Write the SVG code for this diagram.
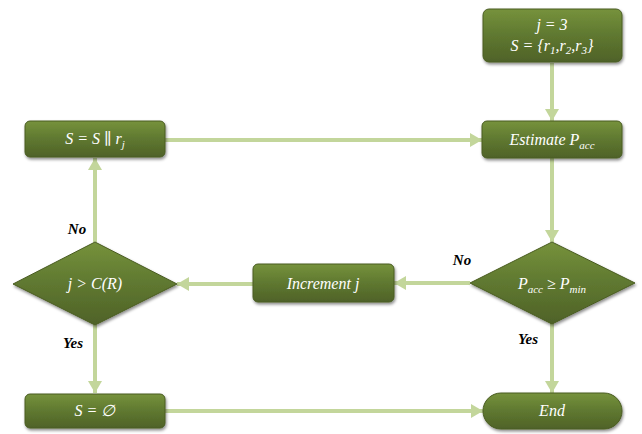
<svg xmlns="http://www.w3.org/2000/svg" width="642" height="434" viewBox="0 0 642 434">
<style>
.node{fill:url(#g);stroke:#4a5c22;stroke-width:1;filter:url(#sh)}
.t{fill:#ffffff;font-family:'Liberation Serif','DejaVu Serif',serif;font-style:italic;font-size:16px;text-anchor:middle}
.sub{font-size:11px}
.c{stroke:#c3d69b;stroke-width:4;fill:none}
.lbl{fill:#000;font-family:'Liberation Serif','DejaVu Serif',serif;font-style:italic;font-weight:bold;font-size:15px;text-anchor:middle}
</style>
<defs>
<linearGradient id="g" x1="0" y1="0" x2="0" y2="1">
<stop offset="0" stop-color="#76923c"/>
<stop offset="0.5" stop-color="#5f7830"/>
<stop offset="1" stop-color="#4f6228"/>
</linearGradient>
<filter id="sh" x="-20%" y="-20%" width="140%" height="150%">
<feDropShadow dx="1" dy="2" stdDeviation="1.5" flood-color="#000" flood-opacity="0.45"/>
</filter>
<marker id="a" markerUnits="userSpaceOnUse" markerWidth="14" markerHeight="14" refX="12" refY="7" orient="auto">
<path d="M0,0 L12,7 L0,14 Z" fill="#c3d69b"/>
</marker>
</defs>
<g id="connectors">
<line class="c" x1="552" y1="63" x2="552" y2="121" marker-end="url(#a)"/>
<line class="c" x1="165" y1="140" x2="482" y2="140" marker-end="url(#a)"/>
<line class="c" x1="552" y1="158" x2="552" y2="242" marker-end="url(#a)"/>
<line class="c" x1="470" y1="283" x2="394" y2="283" marker-end="url(#a)"/>
<line class="c" x1="253" y1="284" x2="177" y2="284" marker-end="url(#a)"/>
<line class="c" x1="95" y1="242" x2="95" y2="158" marker-end="url(#a)"/>
<line class="c" x1="95" y1="325" x2="95" y2="393" marker-end="url(#a)"/>
<line class="c" x1="552" y1="323" x2="552" y2="393" marker-end="url(#a)"/>
<line class="c" x1="165" y1="411" x2="483" y2="411" marker-end="url(#a)"/>
</g>
<g id="start">
<rect class="node" x="483" y="9" width="139" height="53" rx="6"/>
<text class="t" x="552" y="30">j = 3</text>
<text class="t" x="552" y="51">S = {r<tspan class="sub" dy="3">1</tspan><tspan dy="-3">,r</tspan><tspan class="sub" dy="3">2</tspan><tspan dy="-3">,r</tspan><tspan class="sub" dy="3">3</tspan><tspan dy="-3">}</tspan></text>
</g>
<g id="append">
<rect class="node" x="25" y="121" width="140" height="36" rx="5"/>
<text class="t" x="95" y="144">S = S ∥ r<tspan class="sub" dy="4">j</tspan></text>
</g>
<g id="estimate">
<rect class="node" x="482" y="121" width="140" height="37" rx="5"/>
<text class="t" x="552" y="145">Estimate P<tspan class="sub" dy="4">acc</tspan></text>
</g>
<g id="check">
<polygon class="node" points="552,242 635,283 552,324 470,283"/>
<text class="t" x="552" y="289">P<tspan class="sub" dy="4">acc</tspan><tspan dy="-4"> ≥ P</tspan><tspan class="sub" dy="4">min</tspan></text>
</g>
<g id="increment">
<rect class="node" x="253" y="264" width="141" height="38" rx="5"/>
<text class="t" x="323" y="289">Increment j</text>
</g>
<g id="compare">
<polygon class="node" points="95,242 177,284 95,325 13,284"/>
<text class="t" x="95" y="289">j &gt; C(R)</text>
</g>
<g id="empty">
<rect class="node" x="25" y="394" width="140" height="34" rx="5"/>
<text class="t" x="95" y="416">S =  ∅</text>
</g>
<g id="end">
<rect class="node" x="483" y="393" width="139" height="36" rx="18"/>
<text class="t" x="552" y="416">End</text>
</g>
<g id="labels">
<text class="lbl" x="77" y="234">No</text>
<text class="lbl" x="462" y="265">No</text>
<text class="lbl" x="73" y="348">Yes</text>
<text class="lbl" x="528" y="344">Yes</text>
</g>
</svg>
